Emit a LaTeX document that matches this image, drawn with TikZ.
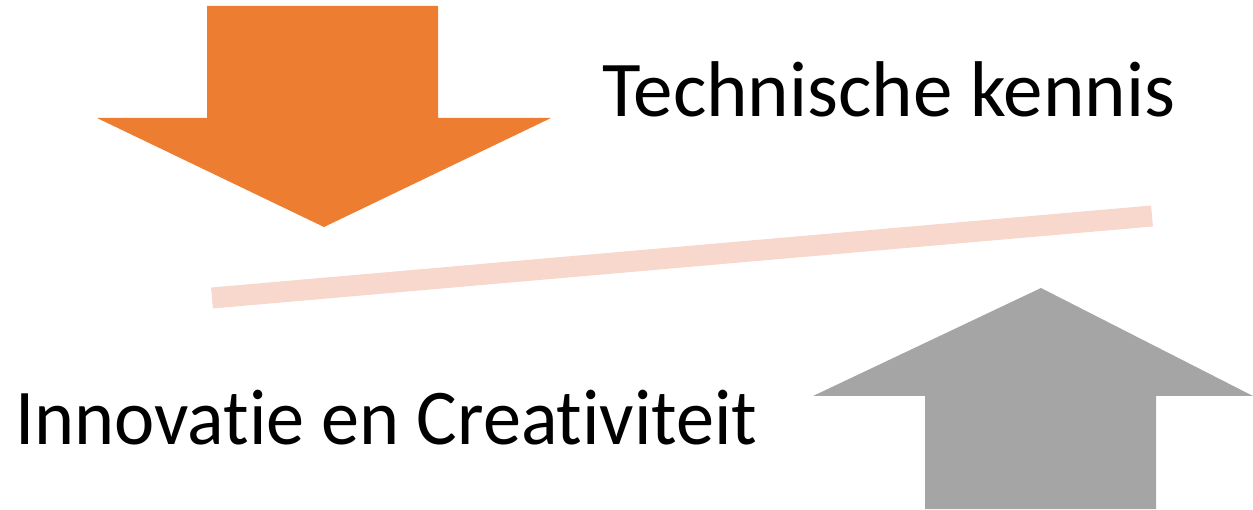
\documentclass[tikz,border=0pt]{standalone}
\usepackage{fontspec}
\setmainfont{Carlito}[Ligatures=NoCommon,RawFeature=-liga]
\definecolor{orangeA}{HTML}{ED7D31}
\definecolor{grayA}{HTML}{A5A5A5}
\definecolor{pinkA}{HTML}{F8D7CD}
\begin{document}
\begin{tikzpicture}[x=1pt,y=-1pt,
  label/.style={inner sep=0pt,anchor=base west,font=\fontsize{79}{90}\selectfont}]
\useasboundingbox (0,0) rectangle (1253,510);
% orange arrow down
\fill[orangeA] (207,6) -- (438,6) -- (438,118) -- (551,118) -- (324,227) -- (97,118) -- (207,118) -- cycle;
% gray arrow up
\fill[grayA] (925,509) -- (1156,509) -- (1156,396) -- (1253,396) -- (1041,288) -- (813,396) -- (925,396) -- cycle;
% balance line
\coordinate (l1) at (212,298);
\coordinate (l2) at (1152,216);
\draw[pinkA,line width=21pt] (l1) -- (l2);
\node[label] (tk) at (602,117) {Technische kennis};
\node[label] (ic) at (15,444) {\scalebox{0.965}[1]{Innovatie en Creativiteit}};
\end{tikzpicture}
\end{document}
